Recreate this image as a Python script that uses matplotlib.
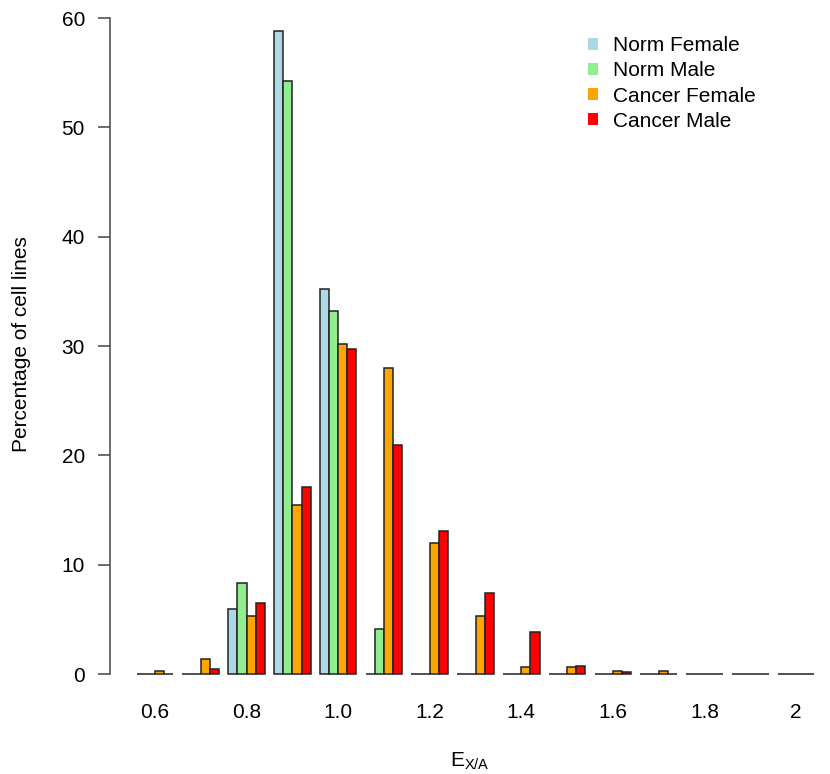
import matplotlib
matplotlib.use("Agg")
import matplotlib.pyplot as plt
import numpy as np

plt.rcParams['font.family'] = ['Liberation Sans', 'DejaVu Sans']

bins = [0.6, 0.7, 0.8, 0.9, 1.0, 1.1, 1.2, 1.3, 1.4, 1.5, 1.6, 1.7, 1.8, 1.9, 2.0]
series_names = ["Norm Female", "Norm Male", "Cancer Female", "Cancer Male"]
norm_female   = [0, 0, 5.9, 58.8, 35.2, 0, 0, 0, 0, 0, 0, 0, 0, 0, 0]
norm_male     = [0, 0, 8.3, 54.2, 33.2, 4.1, 0, 0, 0, 0, 0, 0, 0, 0, 0]
cancer_female = [0.3, 1.4, 5.3, 15.5, 30.2, 28.0, 12.0, 5.3, 0.6, 0.6, 0.3, 0.3, 0, 0, 0]
cancer_male   = [0, 0.5, 6.5, 17.1, 29.7, 20.9, 13.1, 7.4, 3.8, 0.7, 0.2, 0, 0, 0, 0]
tick_labels = ["0.6", "0.8", "1.0", "1.2", "1.4", "1.6", "1.8", "2"]
colors = ["#ADD8E6", "#90EE90", "#FFA500", "#FF0000"]

W, H = 830, 774
FS = 15
fig = plt.figure(figsize=(W / 100, H / 100), dpi=100)
ax = fig.add_axes([110 / W, (H - 674) / H, 720 / W, (674 - 18) / H])

series = [norm_female, norm_male, cancer_female, cancer_male]
n = len(bins)
for j, (vals, col, name) in enumerate(zip(series, colors, series_names)):
    lefts = np.arange(n) * 5 + 1 + j
    ax.bar(lefts, vals, width=1, align='edge', color=col, edgecolor='#222222',
           linewidth=1.1, clip_on=False, label=name)

ax.set_xlim(-1.91, 76.7)
ax.set_ylim(0, 60)

for s in ['top', 'right', 'bottom']:
    ax.spines[s].set_visible(False)
ax.spines['left'].set_bounds(0, 60)
ax.spines['left'].set_color('#444444')
ax.spines['left'].set_linewidth(1.1)

ax.set_yticks([0, 10, 20, 30, 40, 50, 60])
ax.tick_params(axis='y', length=9, width=1.1, color='#444444', labelsize=FS, pad=9)
centers = np.arange(n) * 5 + 3
ax.set_xticks(centers[::2])
ax.set_xticklabels(tick_labels)
ax.tick_params(axis='x', length=0, labelsize=FS, pad=21)

fig.text(22 / W, 1 - 344 / H, "Percentage of cell lines", rotation=90,
         ha='center', va='center', fontsize=FS)
fig.text(470 / W, 1 - 761 / H, r"E$_{\mathregular{X/A}}$", ha='center', va='center',
         fontsize=FS)

leg = ax.legend(loc='upper left', bbox_to_anchor=(588 / W, 1 - 36 / H),
                bbox_transform=fig.transFigure,
                frameon=False, fontsize=FS, handlelength=0.5, handleheight=0.5,
                handletextpad=0.7, labelspacing=0.3, borderaxespad=0, borderpad=0)
for h in leg.legend_handles:
    h.set_edgecolor('none')

fig.savefig("out.png", dpi=100)
